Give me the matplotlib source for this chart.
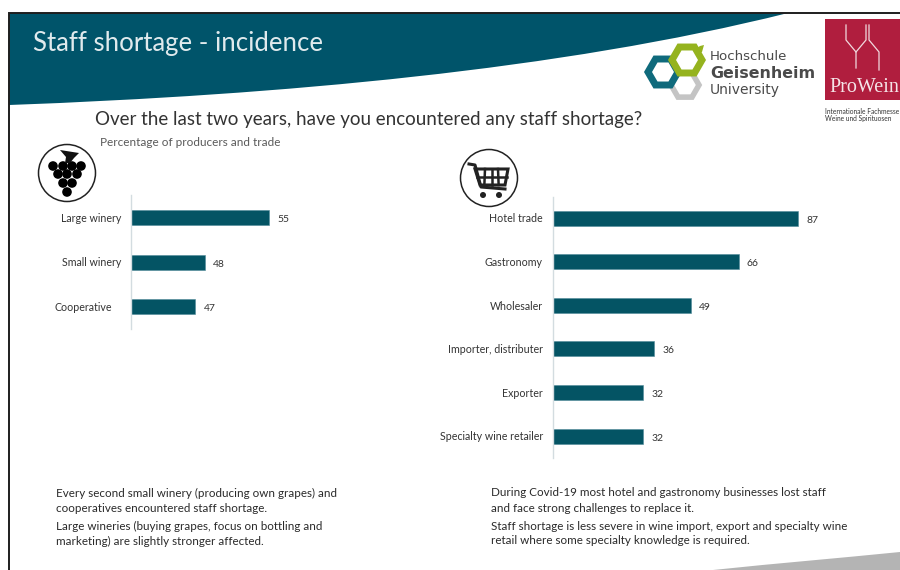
import math

import matplotlib
matplotlib.use('Agg')
import matplotlib.pyplot as plt
from matplotlib.patches import Circle, PathPatch, Polygon, Rectangle, RegularPolygon
from matplotlib.path import Path
from matplotlib.transforms import ScaledTranslation

# chart data
producers = ['Large winery', 'Small winery', 'Cooperative']
producer_values = [55, 48, 47]
trade = ['Hotel trade', 'Gastronomy', 'Wholesaler', 'Importer, distributer', 'Exporter',
         'Specialty wine retailer']
trade_values = [87, 66, 49, 36, 32, 32]

title = 'Staff shortage - incidence'
question = 'Over the last two years, have you encountered any staff shortage?'
subtitle = 'Percentage of producers and trade'
note_left = ['Every second small winery (producing own grapes) and',
             'cooperatives encountered staff shortage.',
             'Large wineries (buying grapes, focus on bottling and',
             'marketing) are slightly stronger affected.']
note_right = ['During Covid-19 most hotel and gastronomy businesses lost staff',
              'and face strong challenges to replace it.',
              'Staff shortage is less severe in wine import, export and specialty wine',
              'retail where some specialty knowledge is required.']

TEAL = '#00546A'
BAR = '#045464'
TEXT = '#333333'
W, H = 900, 570

plt.rcParams['font.family'] = ['Lato', 'DejaVu Sans']

fig = plt.figure(figsize=(W / 100, H / 100), dpi=100, facecolor='white')

# slide background, in pixel coordinates
bg = fig.add_axes([0, 0, 1, 1])
bg.set_xlim(0, W)
bg.set_ylim(H, 0)
bg.axis('off')

# header band with curved lower edge
band = Path([(9, 13), (9, 105), (280, 95), (560, 70), (788, 13), (9, 13)],
            [Path.MOVETO, Path.LINETO, Path.CURVE4, Path.CURVE4, Path.CURVE4, Path.CLOSEPOLY])
bg.add_patch(PathPatch(band, fc=TEAL, ec='none'))
bg.plot([9, 9, 900], [570, 13, 13], color='#1E1E1E', lw=1.4, solid_joinstyle='miter')

# grey swoosh bottom right
swoosh = Path([(713, 570), (780, 563), (840, 558), (900, 552), (900, 570), (713, 570)],
              [Path.MOVETO, Path.CURVE4, Path.CURVE4, Path.CURVE4, Path.LINETO, Path.CLOSEPOLY])
bg.add_patch(PathPatch(swoosh, fc='#B4B4B4', ec='none'))

bg.text(33, 44, title, color='#E0EAED', fontsize=18.5, va='center', ha='left')
bg.text(95, 120, question, color=TEXT, fontsize=13.5, va='center', ha='left')
bg.text(100, 142, subtitle, color='#5A5A5A', fontsize=8.5, va='center', ha='left')

# university logo, flat-topped hexagons
flat = math.pi / 6
bg.add_patch(Rectangle((646, 69.5), 6, 5, fc='#0F6A7C', ec='none'))
bg.add_patch(RegularPolygon((685, 85), 6, radius=14, orientation=flat, fc='none', ec='#C4C4C4', lw=4))
bg.add_patch(RegularPolygon((663, 72), 6, radius=15, orientation=flat, fc='none', ec='#0F6A7C', lw=5))
bg.add_patch(RegularPolygon((687, 60), 6, radius=15, orientation=flat, fc='none', ec='#95B31E', lw=5))
bg.add_patch(Polygon([(694, 50), (700, 46), (704, 45), (702, 52), (697, 55)], fc='#95B31E', ec='none'))
bg.text(710, 57, 'Hochschule', color='#4A4A4A', fontsize=9.6, family='DejaVu Sans', va='center')
bg.text(710, 73, 'Geisenheim', color='#4A4A4A', fontsize=11.4, family='DejaVu Sans', weight='bold', va='center')
bg.text(710, 90, 'University', color='#4A4A4A', fontsize=10, family='DejaVu Sans', va='center')

# trade fair logo
bg.add_patch(Rectangle((825, 19), 75, 81, fc='#B01E3E', ec='none'))
for xs, ys in [([846, 846, 856, 856], [25, 40, 52, 68]),
               ([866, 866, 856], [25, 40, 52]),
               ([869, 869, 879, 879], [25, 40, 52, 70])]:
    bg.plot(xs, ys, color='#F1D9DE', lw=0.9)
bg.text(829, 87, 'ProWein', color='#F5E4E8', fontsize=14.5, family='Liberation Serif', va='center', clip_on=True)
bg.text(825, 112, 'Internationale Fachmesse', color='#333333', fontsize=4.8, va='center', clip_on=True)
bg.text(825, 119, 'Weine und Spirituosen', color='#333333', fontsize=4.8, va='center', clip_on=True)

# grape icon
bg.add_patch(Circle((67, 173), 28.5, fc='white', ec='#222222', lw=1.1))
for x, y in [(53, 166), (63, 166), (72, 166), (81, 166), (58, 174), (67, 174), (77, 174),
             (63, 183), (72, 183), (67, 192)]:
    bg.add_patch(Circle((x, y), 4.8, fc='black', ec='none'))
bg.add_patch(Polygon([(60, 150), (79, 153), (74, 158), (70, 163), (65, 163), (66, 157)], fc='#111111', ec='none'))

# shopping cart icon
bg.add_patch(Circle((489, 178), 28.5, fc='white', ec='#222222', lw=1.1))
bg.plot([469, 475, 481, 505], [164, 165, 187, 189], color='#222222', lw=2.2)
bg.add_patch(Polygon([(475, 169), (508, 169), (505, 185), (480, 185)], fc='none', ec='#222222', lw=2.2))
bg.plot([477, 507], [177, 177], color='#222222', lw=1.8)
for x in [485, 491.5, 498]:
    bg.plot([x, x + (x - 491.5) * 0.1], [169, 185], color='#222222', lw=1.8)
bg.add_patch(Circle((483, 195), 3, fc='#222222', ec='none'))
bg.add_patch(Circle((499, 195), 3, fc='#222222', ec='none'))

# commentary below the charts
for x, lines in [(56, note_left), (491, note_right)]:
    for y, line in zip([493, 508, 526, 541], lines):
        bg.text(x, y, line, color='#2A2A2A', fontsize=8.38, va='center', ha='left')


def bar_panel(left, top, width, height, labels, values, xlim, first, step):
    ax = fig.add_axes([left / W, 1 - (top + height) / H, width / W, height / H])
    ax.patch.set_alpha(0)
    ys = list(range(len(values)))
    ax.barh(ys, values, height=15 / step, color=BAR, edgecolor='#4F8A98', linewidth=0.4)
    ax.set_xlim(*xlim)
    ax.set_ylim((top + height - first) / step, (top - first) / step)
    ax.set_yticks(ys, labels)
    ax.set_xticks([])
    ax.tick_params(axis='y', length=0, pad=7, labelsize=7.7, labelcolor='#333333')
    for name in ['top', 'right', 'bottom']:
        ax.spines[name].set_visible(False)
    ax.spines['left'].set_color('#D3DCE0')
    ax.spines['left'].set_linewidth(1)
    for y, v in zip(ys, values):
        ax.annotate(str(v), (v, y), xytext=(6, -1.5), textcoords='offset points',
                    va='center', ha='left', fontsize=7.5, color='#333333')
    return ax


# the producer panel has a truncated value axis, starting at 40
ax1 = bar_panel(131, 194.5, 268, 135, producers, producer_values, (40, 40 + 268 / 9.2), 217.5, 44.5)
ax2 = bar_panel(552.5, 197, 300, 261, trade, trade_values, (0, 300 / 2.82), 218, 43.6)

# the last producer label sits further left than the others
last = ax1.get_yticklabels()[-1]
last.set_transform(last.get_transform() + ScaledTranslation(-9 / 100, 0, fig.dpi_scale_trans))

fig.savefig('out.png', dpi=100)
